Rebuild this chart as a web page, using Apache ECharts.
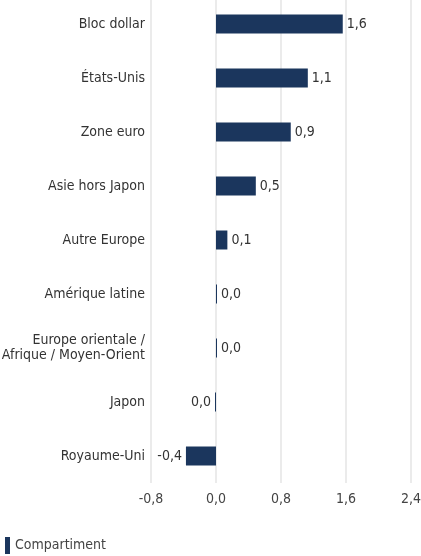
<!DOCTYPE html>
<html>
<head>
<meta charset="utf-8">
<script src="https://cdn.jsdelivr.net/npm/echarts@6/dist/echarts.min.js"></script>
<style>
html, body { margin: 0; padding: 0; background: #fff; }
#chart { width: 421px; height: 556px; }
</style>
</head>
<body>
<div id="chart"></div>
<script>
// categories from bottom to top (category axis on y starts at bottom)
let regions = ['Royaume-Uni', 'Japon', 'Europe orientale /\nAfrique / Moyen-Orient', 'Amérique latine', 'Autre Europe', 'Asie hors Japon', 'Zone euro', 'États-Unis', 'Bloc dollar']
let compartiment = [-0.37, -0.012, 0.012, 0.012, 0.14, 0.49, 0.92, 1.13, 1.56]
let ticks = [-0.8, 0, 0.8, 1.6, 2.4]

const font = '"DejaVu Sans Condensed", "Liberation Sans Narrow", Roboto, sans-serif'

function fr(v) {
    return v.toFixed(1).replace('.', ',').replace('-0,0', '0,0')
}

const option = {
    animation: false,
    textStyle: { fontFamily: font },
    grid: { left: 151, right: 10, top: -3, bottom: 73, outerBoundsMode: 'none', containLabel: false },
    legend: {
        left: 0,
        bottom: -3,
        itemWidth: 5,
        itemHeight: 17,
        itemGap: 8,
        icon: 'rect',
        textStyle: { fontFamily: font, fontSize: 14, color: '#444' },
        data: ['Compartiment']
    },
    xAxis: {
        type: 'value',
        min: ticks[0],
        max: ticks[ticks.length - 1],
        interval: 0.8,
        axisLine: { show: false },
        axisTick: { show: false },
        axisLabel: {
            fontFamily: font,
            fontSize: 14,
            color: '#444',
            margin: 9,
            formatter: function (v) { return fr(v) }
        },
        splitLine: { show: true, lineStyle: { color: '#ebebeb', width: 2 } }
    },
    yAxis: {
        type: 'category',
        data: regions,
        axisLine: { show: false },
        axisTick: { show: false },
        axisLabel: {
            fontFamily: font,
            fontSize: 14,
            color: '#333',
            margin: 6,
            lineHeight: 15
        }
    },
    series: [
        {
            name: 'Compartiment',
            type: 'bar',
            barWidth: 19,
            barMinHeight: 1,
            itemStyle: { color: '#1b365d' },
            label: {
                show: true,
                position: 'right',
                distance: 4,
                fontFamily: font,
                fontSize: 14,
                color: '#333',
                formatter: function (p) { return fr(p.value) }
            },
            // negative bars keep their label on the left
            data: compartiment.map(function (v) {
                if (v < 0) {
                    return { value: v, label: { position: 'left' } }
                }
                return v
            })
        }
    ]
}

const myChart = echarts.init(document.getElementById('chart'))
myChart.setOption(option)
</script>
</body>
</html>
